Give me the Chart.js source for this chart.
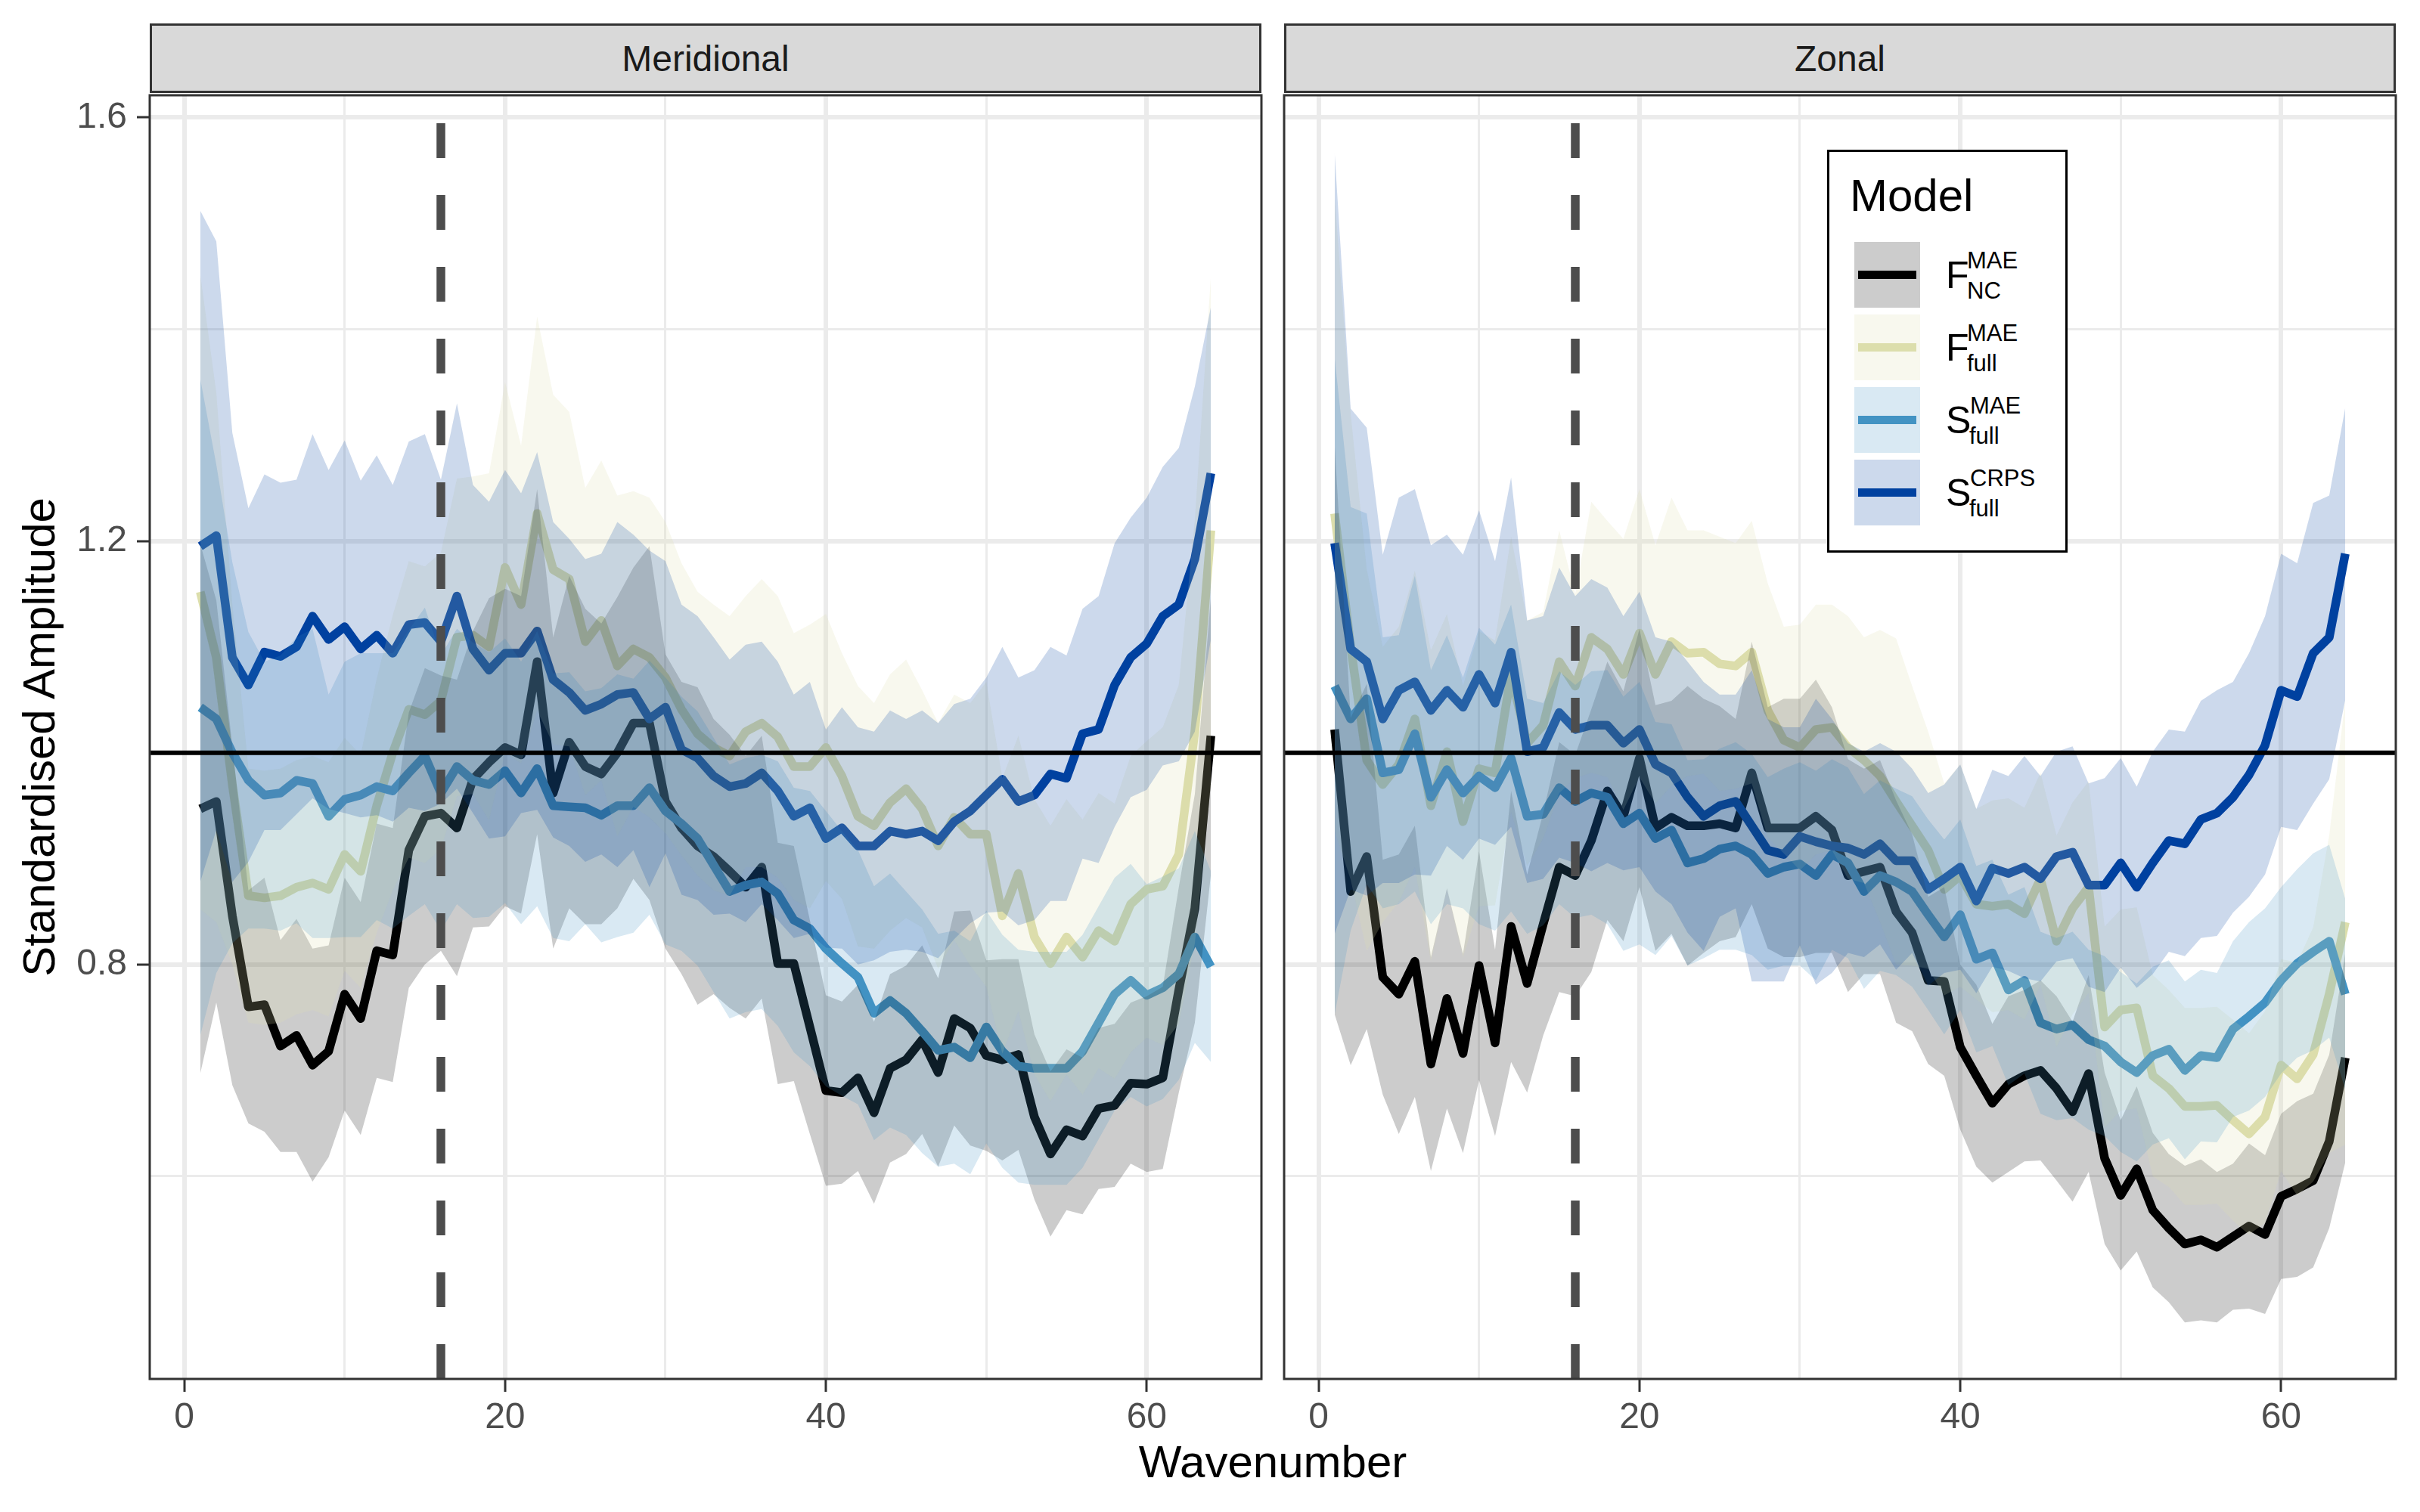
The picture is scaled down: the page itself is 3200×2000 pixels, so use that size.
<!DOCTYPE html>
<html><head><meta charset="utf-8">
<script src="https://cdn.jsdelivr.net/npm/chart.js@4.4.1/dist/chart.umd.min.js"></script>
<style>
html,body{margin:0;padding:0;background:#fff;}
body{width:3200px;height:2000px;position:relative;overflow:hidden;font-family:'Liberation Sans',Arial,Helvetica,sans-serif;}
canvas{position:absolute;left:0;top:0;}
.strip{position:absolute;top:31px;height:92px;width:1470px;background:#d9d9d9;border:3px solid #333;box-sizing:border-box;color:#1a1a1a;font-size:48px;display:flex;align-items:center;justify-content:center;z-index:5;}
.t{position:absolute;white-space:nowrap;z-index:7;color:#000;line-height:1;}
</style></head>
<body>
<canvas id="c1" width="3200" height="2000" style="width:3200px;height:2000px"></canvas>
<canvas id="c2" width="3200" height="2000" style="width:3200px;height:2000px"></canvas>
<div class="strip" id="s1" style="left:198px"></div>
<div class="strip" id="s2" style="left:1698px"></div>
<div id="ytitle" style="position:absolute;left:-448px;top:940px;width:1000px;height:70px;line-height:70px;font-size:60px;text-align:center;transform:rotate(-90deg);color:#000;z-index:5;"></div>
<div id="xtitle" style="position:absolute;left:1283px;top:1899px;width:800px;height:70px;line-height:70px;font-size:60px;text-align:center;color:#000;z-index:5;"></div>
<div id="legend" style="position:absolute;left:2416px;top:198px;width:318px;height:533px;border:3px solid #000;box-sizing:border-box;background:#fff;z-index:6;"></div>
<script>
// ---------------- data ----------------
const panelTitles = ['Meridional', 'Zonal'];
const xTitle = 'Wavenumber';
const yTitle = 'Standardised Amplitude';
const legendTitle = 'Model';
const legendMain = ['F', 'F', 'S', 'S'];
const legendSup = ['MAE', 'MAE', 'MAE', 'CRPS'];
const legendSub = ['NC', 'full', 'full', 'full'];

const wavenumber = [1,2,3,4,5,6,7,8,9,10,11,12,13,14,15,16,17,18,19,20,21,22,23,24,25,26,27,28,29,30,31,32,
  33,34,35,36,37,38,39,40,41,42,43,44,45,46,47,48,49,50,51,52,53,54,55,56,57,58,59,60,61,62,63,64];

const xTickVals = [0, 10, 20, 30, 40, 50, 60];
const xTickLabels = ['0', '', '20', '', '40', '', '60'];
const yTickVals = [0.6, 0.8, 1.0, 1.2, 1.4, 1.6];
const yTickLabels = ['', '0.8', '', '1.2', '', '1.6'];
const xRange = [-2.15, 67.15];
const yRange = [0.4086, 1.621];
const cutoffWavenumber = 16;
const referenceLevel = 1.0;

// Meridional
const merid_nc = [0.947,0.954,0.846,0.760,0.762,0.723,0.733,0.705,0.718,0.772,0.749,0.813,0.809,0.908,0.940,0.943,0.929,0.975,0.991,1.005,0.998,1.086,0.962,1.010,0.987,0.980,1.000,1.028,1.028,0.954,0.929,0.912,0.902,0.888,0.873,0.892,0.801,0.801,0.741,0.681,0.679,0.693,0.660,0.702,0.710,0.729,0.698,0.749,0.740,0.714,0.710,0.715,0.656,0.621,0.644,0.638,0.664,0.667,0.688,0.687,0.693,0.776,0.853,1.016];
const merid_nc_spread = [0.25,0.19,0.16,0.11,0.12,0.10,0.11,0.11,0.10,0.11,0.11,0.12,0.12,0.13,0.14,0.13,0.14,0.14,0.155,0.15,0.15,0.163,0.147,0.157,0.149,0.142,0.147,0.147,0.167,0.139,0.138,0.15,0.13,0.129,0.124,0.124,0.114,0.111,0.101,0.09,0.086,0.088,0.086,0.089,0.089,0.089,0.089,0.101,0.111,0.09,0.095,0.09,0.078,0.078,0.076,0.074,0.076,0.077,0.076,0.083,0.086,0.097,0.108,0.131];
const merid_ffull = [1.152,1.090,0.970,0.865,0.863,0.865,0.873,0.877,0.871,0.904,0.888,0.950,1.000,1.041,1.036,1.049,1.109,1.111,1.100,1.175,1.140,1.226,1.173,1.164,1.105,1.125,1.082,1.098,1.090,1.071,1.041,1.018,1.005,0.997,1.020,1.028,1.015,0.987,0.987,1.005,0.978,0.940,0.931,0.953,0.966,0.947,0.912,0.939,0.923,0.923,0.846,0.886,0.826,0.801,0.826,0.807,0.832,0.822,0.857,0.871,0.874,0.904,1.020,1.210];
const merid_ffull_spread = [0.30,0.25,0.17,0.12,0.12,0.12,0.12,0.12,0.12,0.11,0.11,0.12,0.13,0.14,0.14,0.14,0.15,0.15,0.164,0.175,0.150,0.186,0.165,0.158,0.145,0.151,0.161,0.149,0.151,0.147,0.138,0.134,0.135,0.132,0.128,0.136,0.133,0.126,0.134,0.126,0.116,0.123,0.116,0.121,0.122,0.112,0.116,0.116,0.124,0.144,0.13,0.13,0.13,0.13,0.13,0.13,0.13,0.13,0.14,0.14,0.15,0.16,0.20,0.24];
const merid_smae = [1.043,1.032,1.000,0.974,0.960,0.962,0.974,0.971,0.940,0.956,0.960,0.968,0.964,0.981,0.997,0.962,0.987,0.974,0.970,0.983,0.962,0.985,0.950,0.949,0.948,0.941,0.950,0.950,0.967,0.945,0.933,0.919,0.894,0.869,0.875,0.878,0.867,0.842,0.834,0.815,0.801,0.788,0.754,0.766,0.754,0.737,0.719,0.722,0.712,0.741,0.718,0.704,0.702,0.702,0.702,0.718,0.745,0.772,0.785,0.771,0.778,0.791,0.826,0.798];
const merid_smae_spread = [0.31,0.24,0.18,0.14,0.126,0.13,0.135,0.146,0.115,0.13,0.134,0.126,0.13,0.135,0.14,0.13,0.13,0.13,0.125,0.125,0.124,0.13,0.125,0.127,0.11,0.12,0.124,0.12,0.12,0.126,0.12,0.12,0.12,0.12,0.12,0.12,0.125,0.125,0.13,0.13,0.125,0.12,0.12,0.12,0.115,0.115,0.11,0.11,0.11,0.11,0.11,0.11,0.11,0.11,0.11,0.11,0.11,0.11,0.11,0.105,0.105,0.10,0.10,0.09];
const merid_crps = [1.195,1.205,1.090,1.064,1.095,1.091,1.100,1.129,1.107,1.119,1.098,1.111,1.094,1.121,1.123,1.105,1.148,1.098,1.078,1.094,1.094,1.115,1.069,1.057,1.040,1.046,1.055,1.057,1.032,1.043,1.003,0.995,0.978,0.968,0.971,0.981,0.964,0.940,0.948,0.919,0.929,0.912,0.912,0.926,0.923,0.926,0.917,0.935,0.945,0.960,0.975,0.954,0.960,0.980,0.976,1.018,1.022,1.064,1.090,1.103,1.129,1.140,1.183,1.264];
const merid_crps_spread = [0.317,0.278,0.212,0.167,0.168,0.164,0.158,0.172,0.160,0.176,0.159,0.170,0.159,0.173,0.178,0.153,0.182,0.155,0.159,0.173,0.151,0.169,0.149,0.145,0.143,0.142,0.163,0.149,0.159,0.138,0.137,0.134,0.131,0.120,0.131,0.124,0.122,0.115,0.119,0.103,0.114,0.112,0.108,0.114,0.109,0.114,0.111,0.111,0.106,0.111,0.125,0.117,0.118,0.120,0.116,0.118,0.126,0.134,0.132,0.138,0.141,0.148,0.163,0.157];

// Zonal
const zonal_nc = [1.022,0.869,0.902,0.788,0.772,0.803,0.706,0.768,0.716,0.799,0.726,0.836,0.782,0.838,0.892,0.884,0.917,0.964,0.940,0.995,0.929,0.939,0.931,0.931,0.933,0.929,0.981,0.929,0.929,0.929,0.940,0.927,0.884,0.888,0.892,0.850,0.830,0.785,0.784,0.722,0.695,0.669,0.687,0.695,0.700,0.683,0.661,0.697,0.617,0.582,0.607,0.568,0.551,0.536,0.540,0.533,0.543,0.553,0.545,0.581,0.588,0.596,0.633,0.712];
const zonal_nc_spread = [0.269,0.164,0.163,0.111,0.132,0.128,0.101,0.104,0.094,0.108,0.088,0.128,0.103,0.105,0.118,0.114,0.124,0.122,0.118,0.122,0.116,0.110,0.132,0.120,0.111,0.103,0.124,0.114,0.122,0.122,0.129,0.116,0.110,0.097,0.101,0.105,0.093,0.079,0.089,0.078,0.086,0.075,0.083,0.081,0.085,0.087,0.085,0.093,0.081,0.071,0.078,0.073,0.070,0.074,0.076,0.071,0.069,0.078,0.075,0.078,0.083,0.082,0.082,0.099];
const zonal_ffull = [1.226,1.100,0.993,0.970,0.989,1.032,0.950,1.001,0.935,0.985,0.981,1.074,1.009,1.026,1.086,1.063,1.109,1.098,1.074,1.113,1.074,1.105,1.094,1.095,1.084,1.082,1.095,1.040,1.012,1.005,1.022,1.024,1.005,0.993,0.978,0.954,0.931,0.908,0.871,0.884,0.857,0.855,0.857,0.848,0.881,0.822,0.853,0.873,0.741,0.757,0.759,0.695,0.683,0.666,0.666,0.667,0.653,0.640,0.656,0.705,0.692,0.715,0.772,0.840];
const zonal_ffull_spread = [0.30,0.22,0.18,0.13,0.13,0.14,0.147,0.13,0.128,0.13,0.125,0.13,0.116,0.107,0.124,0.087,0.128,0.121,0.128,0.136,0.122,0.136,0.116,0.115,0.120,0.116,0.124,0.120,0.107,0.116,0.118,0.116,0.124,0.116,0.138,0.154,0.132,0.112,0.100,0.105,0.090,0.10,0.10,0.10,0.10,0.10,0.10,0.10,0.095,0.095,0.095,0.095,0.093,0.093,0.093,0.093,0.095,0.095,0.10,0.10,0.11,0.12,0.15,0.21];
const zonal_smae = [1.063,1.032,1.051,0.981,0.984,1.018,0.958,0.984,0.962,0.978,0.967,0.995,0.940,0.942,0.967,0.954,0.962,0.958,0.933,0.943,0.919,0.927,0.896,0.900,0.909,0.912,0.904,0.886,0.892,0.895,0.884,0.904,0.896,0.869,0.884,0.878,0.869,0.847,0.826,0.847,0.805,0.811,0.776,0.785,0.745,0.739,0.743,0.729,0.723,0.708,0.698,0.714,0.720,0.700,0.714,0.712,0.739,0.751,0.764,0.785,0.801,0.812,0.822,0.772];
const zonal_smae_spread = [0.31,0.20,0.175,0.128,0.127,0.149,0.12,0.127,0.109,0.14,0.135,0.145,0.111,0.105,0.11,0.11,0.115,0.12,0.12,0.124,0.11,0.10,0.097,0.094,0.095,0.098,0.095,0.091,0.093,0.096,0.099,0.09,0.09,0.092,0.09,0.088,0.09,0.09,0.092,0.09,0.088,0.088,0.09,0.088,0.086,0.086,0.088,0.085,0.085,0.085,0.084,0.084,0.084,0.084,0.081,0.08,0.083,0.089,0.089,0.088,0.089,0.093,0.091,0.09];
const zonal_crps = [1.198,1.098,1.086,1.032,1.059,1.067,1.040,1.059,1.043,1.074,1.047,1.095,1.001,1.005,1.038,1.022,1.026,1.026,1.009,1.022,0.989,0.981,0.958,0.940,0.950,0.954,0.931,0.908,0.904,0.921,0.916,0.912,0.910,0.904,0.914,0.898,0.898,0.871,0.881,0.892,0.860,0.891,0.886,0.892,0.881,0.902,0.906,0.875,0.875,0.896,0.873,0.896,0.917,0.914,0.937,0.943,0.958,0.979,1.007,1.059,1.053,1.094,1.109,1.188];
const zonal_crps_spread = [0.369,0.227,0.221,0.155,0.182,0.182,0.156,0.147,0.144,0.155,0.134,0.165,0.124,0.124,0.137,0.126,0.138,0.130,0.120,0.130,0.120,0.124,0.128,0.127,0.105,0.101,0.147,0.124,0.120,0.103,0.135,0.120,0.099,0.097,0.095,0.103,0.087,0.091,0.089,0.097,0.087,0.093,0.092,0.105,0.097,0.099,0.100,0.096,0.101,0.099,0.095,0.105,0.105,0.106,0.112,0.116,0.109,0.115,0.122,0.129,0.126,0.142,0.134,0.138];

// ---------------- styling ----------------
const seriesStyle = [
  { line: '#000000', band: 'rgba(0,0,0,0.2)',       key: '#cccccc' },
  { line: '#DCDEAC', band: 'rgba(220,222,172,0.2)', key: '#f8f8ee' },
  { line: '#4393C3', band: 'rgba(67,147,195,0.2)',  key: '#d9e9f3' },
  { line: '#0041A0', band: 'rgba(0,65,160,0.2)',    key: '#ccd9ec' }
];
const panels = [
  { series: [[merid_nc, merid_nc_spread],[merid_ffull, merid_ffull_spread],[merid_smae, merid_smae_spread],[merid_crps, merid_crps_spread]],
    padding: { left: 0, top: 126, right: 1532, bottom: 0 }, yWidth: 198, showY: true },
  { series: [[zonal_nc, zonal_nc_spread],[zonal_ffull, zonal_ffull_spread],[zonal_smae, zonal_smae_spread],[zonal_crps, zonal_crps_spread]],
    padding: { left: 1698, top: 126, right: 32, bottom: 0 }, yWidth: 0, showY: false }
];

Chart.defaults.font.family = "'Liberation Sans', Arial, Helvetica, sans-serif";

const framePlugin = {
  id: 'frame',
  afterDraw(chart) {
    const a = chart.chartArea, ctx = chart.ctx;
    ctx.save();
    ctx.strokeStyle = '#333333';
    ctx.lineWidth = 3;
    ctx.strokeRect(a.left, a.top, a.right - a.left, a.bottom - a.top);
    ctx.restore();
  }
};

function pts(ys) { return wavenumber.map((w, i) => ({ x: w, y: ys[i] })); }

function buildDatasets(series) {
  const ds = [];
  const loIdx = [];
  series.forEach(([mean, spr], i) => {
    loIdx.push(ds.length);
    ds.push({ data: pts(mean.map((m, j) => m - spr[j])), borderColor: 'rgba(0,0,0,0)', borderWidth: 0,
      pointRadius: 0, fill: false, order: 40 + i });
  });
  series.forEach(([mean], i) => {
    ds.push({ data: pts(mean), borderColor: seriesStyle[i].line, borderWidth: 11.5, pointRadius: 0,
      fill: false, borderJoinStyle: 'round', borderCapStyle: 'butt', tension: 0, order: 20 - i });
  });
  series.forEach(([mean, spr], i) => {
    ds.push({ data: pts(mean.map((m, j) => m + spr[j])), borderColor: 'rgba(0,0,0,0)', borderWidth: 0,
      pointRadius: 0, backgroundColor: seriesStyle[i].band, fill: { target: loIdx[i] }, tension: 0, order: 10 - i });
  });
  ds.push({ data: [{ x: xRange[0], y: referenceLevel }, { x: xRange[1], y: referenceLevel }],
    borderColor: '#000000', borderWidth: 6, pointRadius: 0, fill: false, order: 2 });
  ds.push({ data: [{ x: cutoffWavenumber, y: yRange[0] }, { x: cutoffWavenumber, y: yRange[1] }],
    borderColor: '#4D4D4D', borderWidth: 11.5, borderDash: [46, 49], borderCapStyle: 'butt',
    pointRadius: 0, fill: false, order: 1 });
  return ds;
}

function isMajorX(v) { return Math.abs(v % 20) < 1e-6; }
function isMajorY(v) { return [0.8, 1.2, 1.6].some(t => Math.abs(t - v) < 1e-6); }

panels.forEach((p, k) => {
  new Chart(document.getElementById('c' + (k + 1)), {
    type: 'line',
    data: { datasets: buildDatasets(p.series) },
    options: {
      responsive: false, devicePixelRatio: 1, animation: false,
      layout: { padding: p.padding },
      plugins: { legend: { display: false }, tooltip: { enabled: false }, filler: { propagate: false } },
      elements: { line: { tension: 0 } },
      scales: {
        x: {
          type: 'linear', min: xRange[0], max: xRange[1],
          afterBuildTicks: s => { s.ticks = xTickVals.map(v => ({ value: v })); },
          afterFit: s => { s.height = 176; },
          border: { display: false },
          grid: {
            color: '#EBEBEB',
            lineWidth: c => (c.tick && isMajorX(c.tick.value)) ? 6 : 3,
            drawTicks: true, tickLength: 17, tickWidth: 3,
            tickColor: c => (c.tick && isMajorX(c.tick.value)) ? '#333333' : 'rgba(0,0,0,0)'
          },
          ticks: { autoSkip: false, maxRotation: 0, color: '#4D4D4D', font: { size: 48 }, padding: 6,
            callback: (v, i) => xTickLabels[i] }
        },
        y: {
          type: 'linear', min: yRange[0], max: yRange[1],
          afterBuildTicks: s => { s.ticks = yTickVals.map(v => ({ value: v })); },
          afterFit: s => { s.width = p.yWidth; },
          border: { display: false },
          grid: {
            color: '#EBEBEB',
            lineWidth: c => (c.tick && isMajorY(c.tick.value)) ? 6 : 3,
            drawTicks: p.showY, tickLength: 17, tickWidth: 3,
            tickColor: c => (c.tick && isMajorY(c.tick.value)) ? '#333333' : 'rgba(0,0,0,0)'
          },
          ticks: { display: p.showY, autoSkip: false, color: '#4D4D4D', font: { size: 48 }, padding: 13,
            callback: (v, i) => yTickLabels[i] }
        }
      }
    },
    plugins: [framePlugin]
  });
});

// ---------------- text / legend ----------------
document.getElementById('s1').textContent = panelTitles[0];
document.getElementById('s2').textContent = panelTitles[1];
document.getElementById('ytitle').textContent = yTitle;
document.getElementById('xtitle').textContent = xTitle;

function addText(txt, left, baseline, size) {
  const d = document.createElement('div');
  d.className = 't';
  d.textContent = txt;
  d.style.left = left + 'px';
  d.style.top = (baseline - 0.8465 * size) + 'px';
  d.style.fontSize = size + 'px';
  document.body.appendChild(d);
  return d;
}
addText(legendTitle, 2446, 280, 60);
const keyTops = [320, 416, 512, 608];
legendMain.forEach((m, i) => {
  const top = keyTops[i], c = top + 43.5;
  const key = document.createElement('div');
  key.style.cssText = `position:absolute;left:2452px;top:${top}px;width:87px;height:87px;background:${seriesStyle[i].key};z-index:7;`;
  document.body.appendChild(key);
  const ln = document.createElement('div');
  ln.style.cssText = `position:absolute;left:2457px;top:${c - 5.5}px;width:77px;height:11px;background:${seriesStyle[i].line};z-index:8;`;
  document.body.appendChild(ln);
  const isS = m === 'S';
  addText(m, 2573, c + 17.5, 50);
  addText(legendSup[i], isS ? 2605 : 2601, c - 8, 31);
  addText(legendSub[i], isS ? 2604 : 2601, c + 32, 31);
});
</script>
</body></html>
